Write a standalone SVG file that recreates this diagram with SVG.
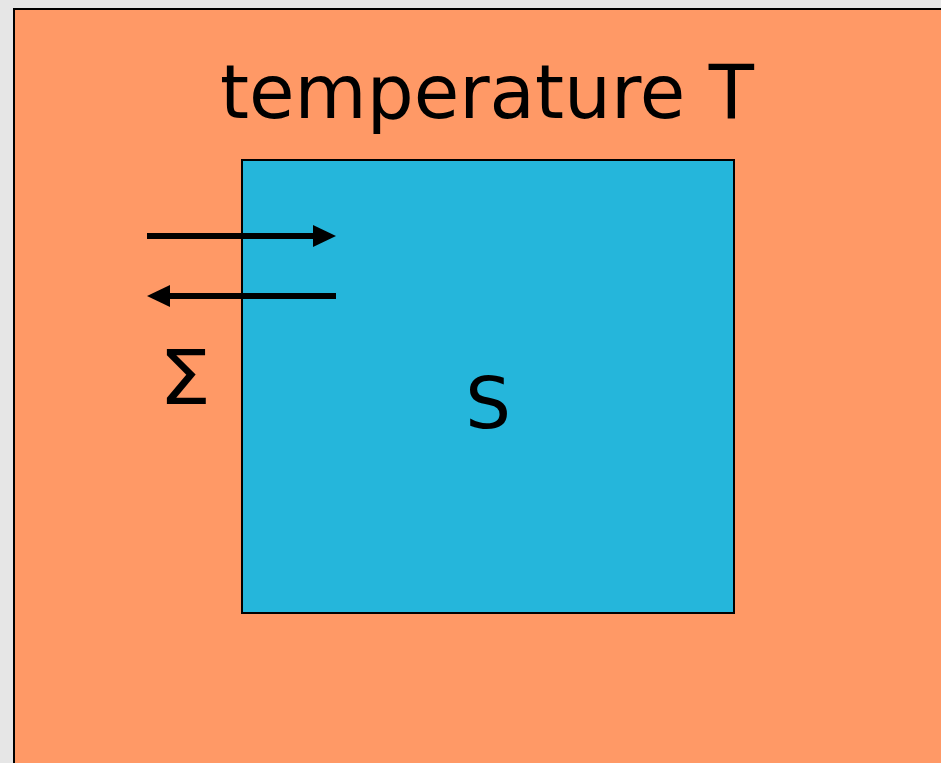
<svg xmlns="http://www.w3.org/2000/svg" width="941" height="763" viewBox="0 0 941 763">
<style>
.lbl{font-family:"DejaVu Sans","Verdana",sans-serif;fill:#000}
.arr{stroke:#000;stroke-width:6;fill:none}
</style>
<defs>
<marker id="ah" markerUnits="userSpaceOnUse" markerWidth="24" markerHeight="24" viewBox="0 0 24 24" refX="6" refY="12" orient="auto">
<path d="M0,1 L23,12 L0,23 Z" fill="#000"/>
</marker>
</defs>
<rect x="0" y="0" width="941" height="763" fill="#e6e6e6"/>
<g id="environment">
<rect x="14" y="9" width="940" height="770" fill="#ff9966" stroke="#000" stroke-width="2"/>
<text class="lbl" x="487" y="118" font-size="74" text-anchor="middle">temperature T</text>
</g>
<g id="system">
<rect x="242" y="160" width="492" height="453" fill="#25b6db" stroke="#000" stroke-width="2"/>
<text class="lbl" x="488" y="428" font-size="72" text-anchor="middle">S</text>
</g>
<g id="boundary">
<text class="lbl" x="185" y="404" font-size="74" text-anchor="middle" transform="translate(185 0) scale(1.12 1) translate(-185 0)">Σ</text>
</g>
<g id="connectors">
<line class="arr" x1="147" y1="236" x2="319" y2="236" marker-end="url(#ah)"/>
<line class="arr" x1="336" y1="296" x2="164" y2="296" marker-end="url(#ah)"/>
</g>
</svg>
